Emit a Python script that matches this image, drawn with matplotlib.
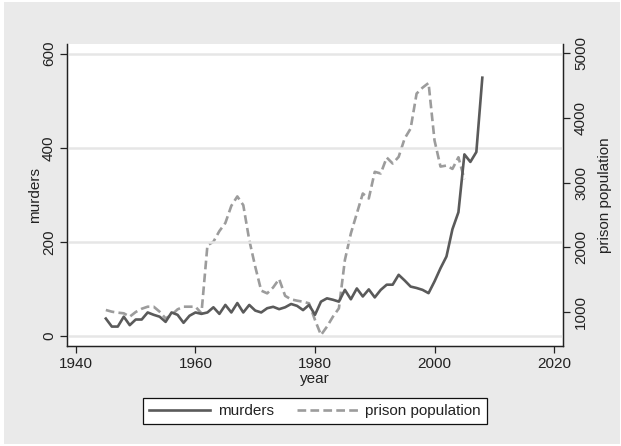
import numpy as np
import matplotlib
matplotlib.use('Agg')
import matplotlib.pyplot as plt
from matplotlib.patches import Rectangle

plt.rcParams['font.family'] = ['Liberation Sans', 'DejaVu Sans']

# murders per year
murder_years = list(range(1945, 2009))
murders = [37, 20, 20, 41, 23, 35, 35, 50, 45, 41,
           30, 50, 45, 28, 43, 50, 47, 50, 61, 47,
           66, 50, 70, 50, 66, 54, 50, 59, 62, 57,
           61, 68, 64, 55, 66, 45, 73, 80, 77, 73,
           98, 78, 101, 84, 99, 82, 98, 109, 109, 130,
           118, 105, 102, 98, 91, 116, 144, 169, 227, 263,
           386, 370, 391, 549]

# prison population per year
prison_years = list(range(1945, 2006))
prison = [1031, 1005, 990, 980, 928, 1000, 1050, 1082, 1082, 1005,
          902, 954, 1041, 1082, 1082, 1082, 980, 2030, 2085, 2250,
          2375, 2640, 2785, 2650, 2110, 1700, 1330, 1288, 1380, 1510,
          1250, 1195, 1175, 1159, 1134, 877, 645, 774, 928, 1057,
          1802, 2213, 2522, 2830, 2753, 3165, 3139, 3386, 3293, 3396,
          3679, 3833, 4373, 4465, 4537, 3650, 3246, 3262, 3210, 3390,
          3050]

fig = plt.figure(figsize=(6.21, 4.46), dpi=100, facecolor='white')
fig.patches.append(Rectangle((4 / 621, 2 / 446), 616 / 621, 442 / 446,
                             transform=fig.transFigure, facecolor='#eaeaea',
                             edgecolor='none', zorder=-10))

ax = fig.add_axes([67 / 621, 1 - 346 / 446, 496 / 621, 302 / 446])
ax2 = ax.twinx()

# gridlines on the murders axis
for v in [0, 200, 400, 600]:
    ax.axhline(v, color='#e6e6e6', lw=1.8, zorder=0)

l1, = ax.plot(murder_years, murders, color='#5a5a5a', lw=1.9, zorder=3)
l2, = ax2.plot(prison_years, prison, color='#9c9c9c', lw=1.9,
               dashes=(3.3, 1.6), zorder=2)

ax.set_zorder(ax2.get_zorder() + 1)
ax.patch.set_visible(False)
ax2.patch.set_facecolor('white')
ax2.patch.set_visible(True)

ax.set_xlim(1938.5, 2021.5)
ax.set_ylim(-21.3, 620.6)
ax2.set_ylim(475, 5139)

ax.set_xticks([1940, 1960, 1980, 2000, 2020])
ax.set_yticks([0, 200, 400, 600])
ax2.set_yticks([1000, 2000, 3000, 4000, 5000])

txt = '#222222'
for a in (ax, ax2):
    a.spines['top'].set_visible(False)
    for s in ('left', 'bottom', 'right'):
        a.spines[s].set_color('#222222')
        a.spines[s].set_linewidth(0.9)
    a.tick_params(length=5, width=0.9, color='#222222', labelsize=11,
                  labelcolor=txt, pad=3)

for lab in ax.get_yticklabels():
    lab.set_rotation(90)
    lab.set_va('center')
for lab in ax2.get_yticklabels():
    lab.set_rotation(90)
    lab.set_va('center')

ax.set_xlabel('year', fontsize=11, color=txt, labelpad=1)
ax.set_ylabel('murders', fontsize=11, color=txt, labelpad=0)
ax2.set_ylabel('prison population', fontsize=11, color=txt, labelpad=7)

leg = fig.legend([l1, l2], ['murders', 'prison population'], loc='center',
                 bbox_to_anchor=(315 / 621, 1 - 411 / 446), ncol=2,
                 frameon=True, fancybox=False, edgecolor='#111111',
                 facecolor='white', framealpha=1, fontsize=11,
                 handlelength=4.0, columnspacing=1.5, handletextpad=0.5,
                 borderpad=0.4)
leg.get_frame().set_linewidth(0.9)
for t in leg.get_texts():
    t.set_color(txt)

fig.savefig('out.png', dpi=100, facecolor=fig.get_facecolor())
